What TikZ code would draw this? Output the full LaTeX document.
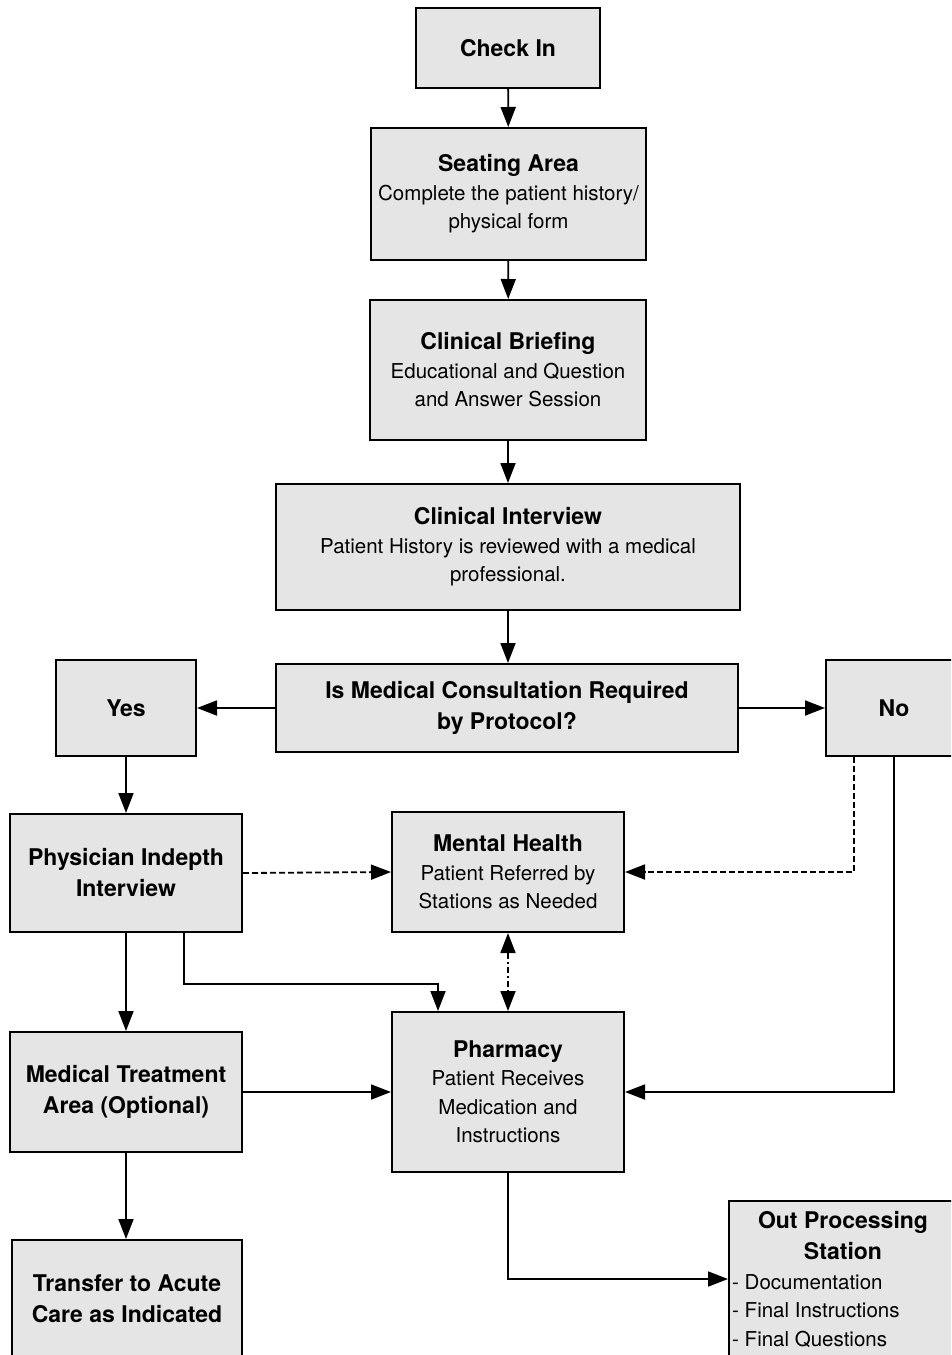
\documentclass[tikz,border=0pt]{standalone}
\usepackage{fontspec}
\setmainfont{TeX Gyre Heros}
\usetikzlibrary{arrows.meta}
\definecolor{boxfill}{RGB}{229,229,229}
\newcommand{\titlef}{\fontsize{23}{31}\selectfont\bfseries}
\newcommand{\bodyf}{\fontsize{20.5}{28.5}\selectfont}

\begin{document}
\begin{tikzpicture}[x=1pt,y=-1pt,
  station/.style={draw=black, line width=2pt, fill=boxfill, rectangle,
                  inner sep=0pt, align=center, font=\bodyf},
  label/.style={inner sep=0pt, font=\bodyf},
  flow/.style={line width=1.8pt, -{Triangle[length=20pt,width=15pt]}},
  referral/.style={flow, dash pattern=on 6pt off 3pt},
  exchange/.style={line width=1.8pt, {Triangle[length=20pt,width=15pt]}-{Triangle[length=20pt,width=15pt]},
                   dash pattern=on 6pt off 3pt on 2pt off 3pt}]

\useasboundingbox (0,0) rectangle (951,1355);
\clip (0,0) rectangle (951,1355);

% main intake column
\node[station, minimum width=184pt, minimum height=80pt, font=\titlef] (checkin) at (508,48) {Check In};
\node[station, minimum width=275pt, minimum height=132pt] (seating) at (508.5,194)
  {{\titlef Seating Area}\\Complete the patient history/\\physical form};
\node[station, minimum width=276pt, minimum height=140pt] (briefing) at (508,370)
  {{\titlef Clinical Briefing}\\Educational and Question\\and Answer Session};
\node[station, minimum width=464pt, minimum height=126pt] (interview) at (508,547)
  {{\titlef Clinical Interview}\\Patient History is reviewed with a medical\\professional.};
\node[station, minimum width=462pt, minimum height=88pt, font=\titlef] (question) at (507,708)
  {Is Medical Consultation Required\\by Protocol?};

% decision outcomes
\node[station, minimum width=140pt, minimum height=96pt, font=\titlef] (yes) at (126,708) {Yes};
\node[station, minimum width=136pt, minimum height=96pt, font=\titlef] (no) at (894,708) {No};

% left branch
\node[station, minimum width=232pt, minimum height=118pt, font=\titlef] (physician) at (126,873)
  {Physician Indepth\\Interview};
\node[station, minimum width=232pt, minimum height=120pt, font=\titlef] (treatment) at (126,1092)
  {Medical Treatment\\Area (Optional)};
\node[station, minimum width=230pt, minimum height=118pt, font=\titlef] (transfer) at (127,1299)
  {Transfer to Acute\\Care as Indicated};

% centre column
\node[station, minimum width=232pt, minimum height=120pt] (mental) at (508,872)
  {{\titlef Mental Health}\\Patient Referred by\\Stations as Needed};
\node[station, minimum width=232pt, minimum height=160pt] (pharmacy) at (508,1092)
  {{\titlef Pharmacy}\\Patient Receives\\Medication and\\Instructions};

% exit station
\node[station, anchor=north west, minimum width=230pt, minimum height=162pt] (out) at (728,1200) {};
\node[label, font=\titlef, align=center] (outtitle) at (843,1236) {Out Processing\\Station};
\node[label, align=left, anchor=west] (outlist) at (732,1311)
  {- Documentation\\- Final Instructions\\- Final Questions};

% connectors
\draw[flow] (checkin) -- (seating);
\draw[flow] (seating) -- (briefing);
\draw[flow] (briefing) -- (interview);
\draw[flow] (interview.south) -- (interview.south |- question.north);
\draw[flow] (question) -- (yes);
\draw[flow] (question) -- (no);
\draw[flow] (yes) -- (physician);
\draw[flow] (physician) -- (treatment);
\draw[flow] (treatment.south) -- (treatment.south |- transfer.north);
\draw[flow] (treatment) -- (pharmacy);
\draw[referral] (physician.east) -- (mental.west);
\draw[referral] ([xshift=-40pt]no.south) |- (mental.east);
\draw[flow] (no.south) |- (pharmacy.east);
\draw[flow] ([xshift=58pt]physician.south) |- ([xshift=-70pt,yshift=27pt]pharmacy.north)
  -- ([xshift=-70pt]pharmacy.north);
\draw[exchange] (mental) -- (pharmacy);
\draw[flow] (pharmacy.south) |- ([yshift=3pt]out.west);
\end{tikzpicture}
\end{document}
